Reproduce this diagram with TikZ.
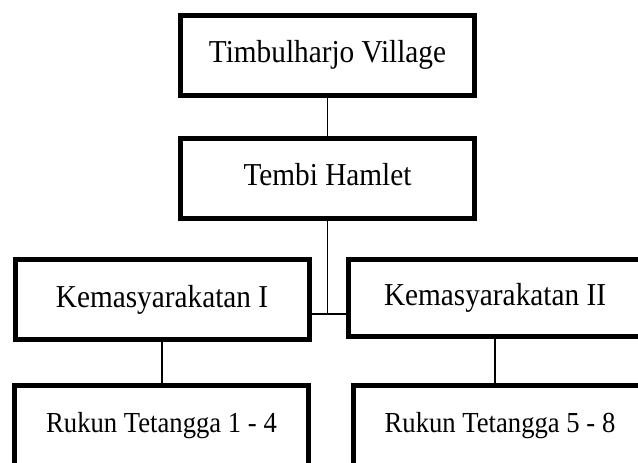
\documentclass[tikz,border=0pt]{standalone}
\usepackage{fontspec}
\setmainfont{Liberation Serif}
\newcommand{\tall}[1]{\scalebox{1.01}[1.1]{#1}}
\begin{document}
\begin{tikzpicture}[x=0.5pt,y=-0.5pt,
    unit/.style={draw,line width=2.5pt,minimum width=147pt,minimum height=40pt,inner sep=0pt,
      font=\fontsize{14.5}{17}\selectfont},
    rt/.style={unit,minimum height=41pt,font=\fontsize{13.2}{16}\selectfont},
    link/.style={line width=0.8pt}]
    \useasboundingbox (0,0) rectangle (638,462);
    \clip (0,0) rectangle (638,462);

    \node[unit] (village) at (327.5,55) {\tall{Timbulharjo Village}};
    \node[unit] (hamlet) at (327.5,178) {\tall{Tembi Hamlet\vphantom{jy}}};
    \node[unit] (kemI) at (162,299.5) {\tall{Kemasyarakatan I}};
    \node[unit,minimum height=38.5pt,minimum width=146.5pt] (kemII) at (495,298) {\tall{Kemasyarakatan II}};
    \node[rt] (rtI) at (161.5,426) {\tall{Rukun Tetangga 1 - 4}};
    \node[rt] (rtII) at (500,426) {\tall{Rukun Tetangga 5 - 8}};

    \coordinate (fork) at (328,314);
    \draw[link] (village) -- (hamlet);
    \draw[link] (hamlet.south) -- (hamlet.south |- fork);
    \draw[link] (kemI.east |- fork) -- (kemII.west |- fork);
    \draw[link] (kemI.south) -- (kemI.south |- rtI.north);
    \draw[link] (kemII.south) -- (kemII.south |- rtII.north);
  \end{tikzpicture}
\end{document}
